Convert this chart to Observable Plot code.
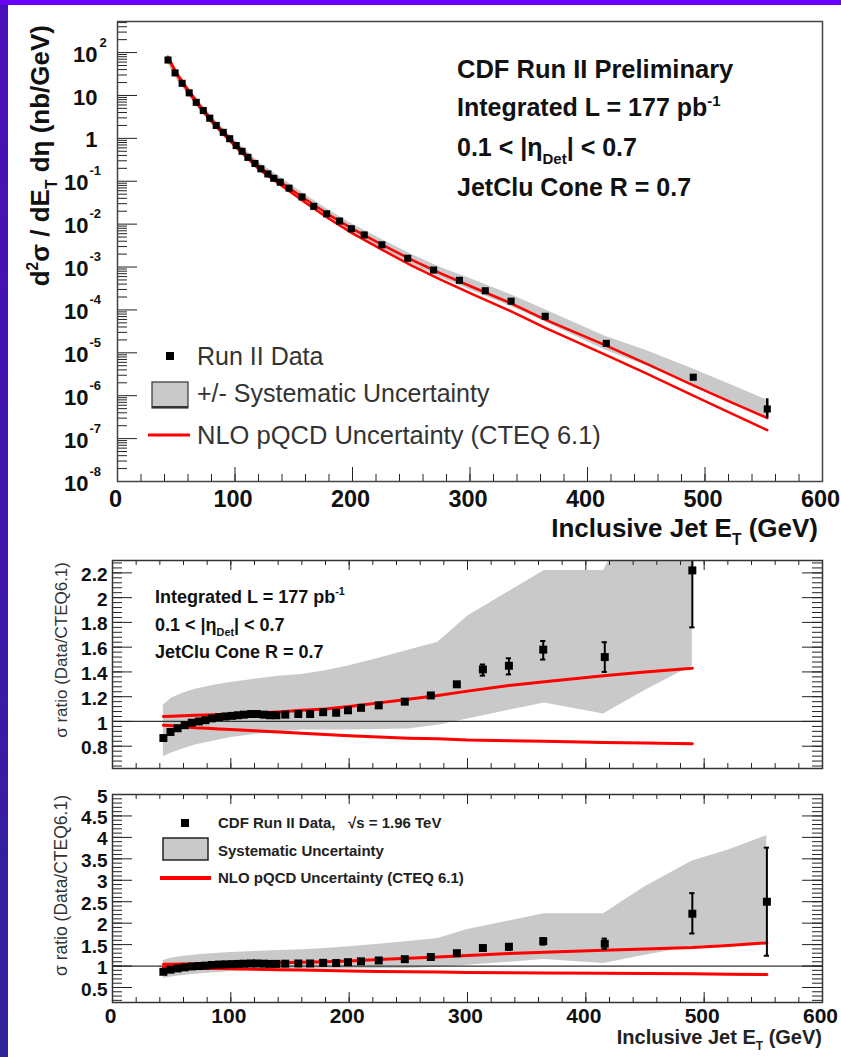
<!DOCTYPE html>
<html>
<head>
<meta charset="utf-8">
<script src="https://cdn.jsdelivr.net/npm/d3@7"></script>
<script src="https://cdn.jsdelivr.net/npm/@observablehq/plot@0.6"></script>
<style>
  html, body { margin: 0; padding: 0; background: #fff; }
  #page {
    position: relative; width: 841px; height: 1057px; overflow: hidden;
    background: linear-gradient(to bottom, #4a10b8 0%, #3f16ac 50%, #31239a 100%);
  }
  #topband { position: absolute; left: 0; top: 0; width: 841px; height: 5px; background: #6a00ff; }
  #sheet { position: absolute; left: 8px; top: 5px; width: 833px; height: 1052px; background: #fff; }
  .panel { position: absolute; left: 0; }
  svg text { white-space: pre; }
</style>
</head>
<body>
<div id="page">
  <div id="topband"></div>
  <div id="sheet"></div>
</div>
<script>
const FONT = '"Liberation Sans", Arial, Helvetica, sans-serif';

// ---- Inclusive jet data, CDF Run II, 177 pb^-1, 0.1 < |eta| < 0.7 ----
const jetEt = [43, 49, 55, 61, 67, 73, 78.5, 84, 90, 95.5, 101, 106, 111, 117, 122, 128, 133, 138.5,
  146, 157, 167, 178, 189, 199, 210, 225, 247, 269, 291, 313, 335, 364, 416, 490, 553];
const crossSection = [67, 33.6, 19.2, 11.5, 6.9, 4.45, 2.95, 2.0, 1.38, 0.98, 0.68, 0.50, 0.36, 0.26,
  0.195, 0.148, 0.117, 0.095, 0.069, 0.043, 0.026, 0.0174, 0.0118, 0.0078, 0.0056, 0.0033, 0.0016,
  8.5e-4, 4.9e-4, 2.8e-4, 1.6e-4, 7.1e-5, 1.66e-5, 2.7e-6, 4.9e-7];
const ratioToNLO = [0.866, 0.915, 0.945, 0.97, 0.99, 1.0, 1.01, 1.025, 1.035, 1.04, 1.045, 1.05, 1.055,
  1.06, 1.06, 1.055, 1.05, 1.05, 1.055, 1.06, 1.06, 1.075, 1.07, 1.09, 1.11, 1.13, 1.16, 1.21, 1.30,
  1.42, 1.45, 1.58, 1.52, 2.22, 2.5];

// statistical error bars (only where they exceed the marker)
const ratioErrEt = [313, 335, 364, 416, 490, 553];
const ratioErrLow = [1.37, 1.38, 1.50, 1.40, 1.76, 1.24];
const ratioErrHigh = [1.46, 1.51, 1.65, 1.64, 2.70, 3.76];
const xsecErrEt = [490, 553];
const xsecErrLow = [2.4e-6, 3.0e-7];
const xsecErrHigh = [3.0e-6, 8.5e-7];

// ---- NLO pQCD (CTEQ 6.1) uncertainty and systematic band, sampled in E_T ----
const gridEt = [43, 50, 60, 70, 80, 90, 100, 120, 140, 160, 180, 200, 225, 250, 275, 300, 335, 365, 415, 450, 490, 520, 553];
const nloHighXsec = [80, 34.4, 13.6, 5.88, 2.74, 1.41, 0.742, 0.224, 0.0915, 0.0382, 0.0165, 0.00773,
  0.00334, 0.00149, 7.14e-4, 3.61e-4, 1.42e-4, 5.81e-5, 1.51e-5, 5.6e-6, 1.74e-6, 7.5e-7, 3.02e-7];
const nloLowXsec = [74.7, 31.8, 12.5, 5.32, 2.46, 1.25, 0.655, 0.194, 0.0778, 0.0317, 0.0134, 0.00611,
  0.00254, 0.00109, 5.07e-4, 2.47e-4, 9.3e-5, 3.7e-5, 9.1e-6, 3.3e-6, 1.0e-6, 4.13e-7, 1.57e-7];
const sysHighXsec = [87, 39.3, 16.0, 7.06, 3.33, 1.73, 0.92, 0.281, 0.116, 0.0483, 0.0212, 0.0100,
  0.00438, 0.00198, 9.7e-4, 5.4e-4, 2.26e-4, 9.8e-5, 2.44e-5, 1.14e-5, 4.2e-6, 1.89e-6, 7.9e-7];
const sysLowXsec = [55, 24.6, 10.1, 4.54, 2.16, 1.13, 0.609, 0.188, 0.0778, 0.0326, 0.01395, 0.00642,
  0.00271, 0.00118, 5.7e-4, 2.96e-4, 1.2e-4, 5.06e-5, 1.17e-5, 5.0e-6, 1.77e-6, 7.65e-7, 3.02e-7];
const nloHighRatio = [1.04, 1.043, 1.046, 1.05, 1.053, 1.057, 1.06, 1.068, 1.077, 1.09, 1.10, 1.12,
  1.15, 1.18, 1.21, 1.245, 1.29, 1.32, 1.37, 1.40, 1.43, 1.48, 1.54];
const nloLowRatio = [0.97, 0.965, 0.958, 0.95, 0.945, 0.94, 0.935, 0.925, 0.915, 0.905, 0.895, 0.885,
  0.875, 0.865, 0.86, 0.85, 0.845, 0.84, 0.83, 0.825, 0.82, 0.81, 0.80];
const sysHighRatio = [1.13, 1.19, 1.23, 1.26, 1.28, 1.30, 1.315, 1.34, 1.365, 1.38, 1.41, 1.45, 1.51,
  1.575, 1.64, 1.85, 2.05, 2.22, 2.22, 2.85, 3.45, 3.70, 4.04];
const sysLowRatio = [0.715, 0.745, 0.78, 0.81, 0.83, 0.85, 0.87, 0.895, 0.915, 0.93, 0.93, 0.93, 0.935,
  0.94, 0.97, 1.02, 1.09, 1.15, 1.06, 1.25, 1.45, 1.50, 1.54];

// ---- axis ticks ----
const etTicks = [0, 100, 200, 300, 400, 500, 600];
const decadeTicks = [1e-8, 1e-7, 1e-6, 1e-5, 1e-4, 1e-3, 1e-2, 1e-1, 1, 10, 100];
const decadeBase = ["10", "10", "10", "10", "10", "10", "10", "10", "1", "10", "10"];
const decadeExp = ["-8", "-7", "-6", "-5", "-4", "-3", "-2", "-1", "", "", "2"];
const ratioTicksTop = [0.8, 1, 1.2, 1.4, 1.6, 1.8, 2, 2.2];
const ratioTicksBottom = [0.5, 1, 1.5, 2, 2.5, 3, 3.5, 4, 4.5, 5];

// ---- row tables ----
const points = jetEt.map((E, i) => ({E, xs: crossSection[i], r: ratioToNLO[i]}));
const grid = gridEt.map((E, i) => ({
  E, nloHi: nloHighXsec[i], nloLo: nloLowXsec[i], sysHi: sysHighXsec[i], sysLo: sysLowXsec[i],
  rNloHi: nloHighRatio[i], rNloLo: nloLowRatio[i], rSysHi: sysHighRatio[i], rSysLo: sysLowRatio[i]
}));
const ratioErr = ratioErrEt.map((E, i) => ({E, lo: ratioErrLow[i], hi: ratioErrHigh[i]}));
const xsecErr = xsecErrEt.map((E, i) => ({E, lo: xsecErrLow[i], hi: xsecErrHigh[i]}));
const decades = decadeTicks.map((v, i) => ({v, base: decadeBase[i], exp: decadeExp[i]}));

const RED = "#ff0000", BAND = "#c9c9c9", INK = "#111";

// text with superscript / subscript runs
function rich(svg, parts, {x, y, size, weight = "bold", anchor = "start", rotate = 0, fill = INK}) {
  const t = d3.select(svg).append("text")
    .attr("transform", `translate(${x},${y})` + (rotate ? ` rotate(${rotate})` : ""))
    .attr("text-anchor", anchor).attr("font-size", size).attr("font-weight", weight)
    .attr("fill", fill).attr("font-family", FONT);
  let shift = 0;
  for (const [s, mode] of parts) {
    const target = mode === "sup" ? -0.42 * size : mode === "sub" ? 0.3 * size : 0;
    const ts = t.append("tspan").text(s).attr("dy", target - shift);
    if (mode) ts.attr("font-size", size * 0.6);
    shift = target;
  }
  return t;
}

// inward tick marks along the frame
function linearTicks({major, minor, majorLen, minorLen, side, plotW, plotH}) {
  const marks = [];
  const add = (vals, len) => {
    if (side === "bottom") marks.push(Plot.ruleX(vals, {x: d => d, insetTop: plotH - len, stroke: "#222", strokeWidth: 1}));
    if (side === "top") marks.push(Plot.ruleX(vals, {x: d => d, insetBottom: plotH - len, stroke: "#222", strokeWidth: 1}));
    if (side === "left") marks.push(Plot.ruleY(vals, {y: d => d, insetRight: plotW - len, stroke: "#222", strokeWidth: 1}));
    if (side === "right") marks.push(Plot.ruleY(vals, {y: d => d, insetLeft: plotW - len, stroke: "#222", strokeWidth: 1}));
  };
  add(minor, minorLen);
  add(major, majorLen);
  return marks;
}

const page = document.getElementById("page");
const etMinor = d3.range(0, 601, 20);

// ================= Panel 1: cross section =================
{
  const W = 841, H = 550, mL = 117, mR = 19, mT = 21, mB = 69;
  const pw = W - mL - mR, ph = H - mT - mB;
  const logMinor = [];
  for (const d of decadeTicks) for (let m = 2; m <= 9; m++) if (d * m <= 530) logMinor.push(d * m);
  const svg = Plot.plot({
    width: W, height: H, marginLeft: mL, marginRight: mR, marginTop: mT, marginBottom: mB,
    style: {background: "transparent", fontFamily: FONT, overflow: "visible"},
    x: {domain: [0, 600], axis: null},
    y: {type: "log", domain: [1e-8, 530], axis: null},
    marks: [
      Plot.areaY(grid, {x: "E", y1: "sysLo", y2: "sysHi", fill: BAND}),
      Plot.line(grid, {x: "E", y: "nloHi", stroke: RED, strokeWidth: 2.5}),
      Plot.line(grid, {x: "E", y: "nloLo", stroke: RED, strokeWidth: 2.5}),
      Plot.ruleX(xsecErr, {x: "E", y1: "lo", y2: "hi", stroke: "#000", strokeWidth: 2.5}),
      Plot.dot(points, {x: "E", y: "xs", symbol: "square", r: 4, fill: "#000"}),
      ...linearTicks({major: etTicks, minor: etMinor, majorLen: 14, minorLen: 7, side: "bottom", plotW: pw, plotH: ph}),
      ...linearTicks({major: decadeTicks, minor: logMinor, majorLen: 20, minorLen: 10, side: "left", plotW: pw, plotH: ph}),
      Plot.frame({stroke: "#444", strokeWidth: 1.5}),
      Plot.text(etTicks, {x: d => d, text: d => String(d), frameAnchor: "bottom", dx: -2, dy: 25,
        fontSize: 23.5, fontWeight: "bold", fill: INK}),
      Plot.text(decades.filter(d => d.v >= 1), {y: "v", text: "base", frameAnchor: "left", dx: -20, dy: 2,
        textAnchor: "end", fontSize: 22, fontWeight: "bold", fill: INK}),
      Plot.text(decades.filter(d => d.v > 10), {y: "v", text: "exp", frameAnchor: "left", dx: -18, dy: -10,
        textAnchor: "start", fontSize: 13, fontWeight: "bold", fill: INK}),
      Plot.text(decades.filter(d => d.v < 1), {y: "v", text: "base", frameAnchor: "left", dx: -29, dy: 2,
        textAnchor: "end", fontSize: 22, fontWeight: "bold", fill: INK}),
      Plot.text(decades.filter(d => d.v < 1), {y: "v", text: "exp", frameAnchor: "left", dx: -28, dy: -10,
        textAnchor: "start", fontSize: 13, fontWeight: "bold", fill: INK})
    ]
  });
  svg.classList.add("panel");
  svg.style.top = "0px";
  page.appendChild(svg);

  rich(svg, [["d"], ["2", "sup"], ["σ / dE"], ["T", "sub"], [" dη (nb/GeV)"]],
    {x: 49, y: 25, size: 26, anchor: "end", rotate: -90});
  rich(svg, [["Inclusive Jet E"], ["T", "sub"], [" (GeV)"]], {x: 818, y: 537, size: 26, anchor: "end"});

  rich(svg, [["CDF Run II Preliminary"]], {x: 457, y: 78, size: 25.5});
  rich(svg, [["Integrated L = 177 pb"], ["-1", "sup"]], {x: 457, y: 116, size: 25});
  rich(svg, [["0.1 < |η"], ["Det", "sub"], ["| < 0.7"]], {x: 457, y: 156, size: 25});
  rich(svg, [["JetClu Cone R = 0.7"]], {x: 457, y: 196, size: 25});

  // legend
  const g = d3.select(svg).append("g");
  g.append("rect").attr("x", 166).attr("y", 352).attr("width", 8).attr("height", 8).attr("fill", "#000");
  g.append("rect").attr("x", 152).attr("y", 382).attr("width", 36).attr("height", 26)
    .attr("fill", BAND).attr("stroke", "#333").attr("stroke-width", 1.2);
  g.append("line").attr("x1", 152).attr("x2", 188).attr("y1", 407).attr("y2", 407).attr("stroke", "#333").attr("stroke-width", 2);
  g.append("line").attr("x1", 148).attr("x2", 190).attr("y1", 435).attr("y2", 435).attr("stroke", RED).attr("stroke-width", 3);
  rich(svg, [["Run II Data"]], {x: 197, y: 365, size: 25, weight: "normal", fill: "#333"});
  rich(svg, [["+/- Systematic Uncertainty"]], {x: 197, y: 402, size: 25, weight: "normal", fill: "#333"});
  rich(svg, [["NLO pQCD Uncertainty (CTEQ 6.1)"]], {x: 197, y: 444, size: 25.5, weight: "normal", fill: "#333"});
}

// ================= Panel 2: ratio, zoomed =================
{
  const W = 841, H = 230, mL = 112, mR = 19, mT = 10, mB = 12;
  const pw = W - mL - mR, ph = H - mT - mB;
  const yMinor = d3.range(0.64, 2.3, 0.04);
  const svg = Plot.plot({
    width: W, height: H, marginLeft: mL, marginRight: mR, marginTop: mT, marginBottom: mB,
    style: {background: "transparent", fontFamily: FONT, overflow: "visible"},
    x: {domain: [0, 600], axis: null},
    y: {domain: [0.62, 2.3], axis: null},
    marks: [
      Plot.areaY(grid.filter(d => d.E <= 490), {x: "E", y1: "rSysLo", y2: "rSysHi", fill: BAND, clip: true}),
      Plot.ruleY([1], {stroke: "#333", strokeWidth: 1.2}),
      Plot.line(grid.filter(d => d.E <= 490), {x: "E", y: "rNloHi", stroke: RED, strokeWidth: 3}),
      Plot.line(grid.filter(d => d.E <= 490), {x: "E", y: "rNloLo", stroke: RED, strokeWidth: 3}),
      Plot.ruleX(ratioErr.filter(d => d.E <= 490), {x: "E", y1: "lo", y2: "hi", stroke: "#000", strokeWidth: 2, clip: true}),
      Plot.ruleY(ratioErr.filter(d => d.E <= 490), {y: "lo", x1: d => d.E - 2.2, x2: d => d.E + 2.2, stroke: "#000", strokeWidth: 2}),
      Plot.ruleY(ratioErr.filter(d => d.E <= 490), {y: "hi", x1: d => d.E - 2.2, x2: d => d.E + 2.2, stroke: "#000", strokeWidth: 2, clip: true}),
      Plot.dot(points.filter(d => d.E <= 490), {x: "E", y: "r", symbol: "square", r: 4.5, fill: "#000"}),
      ...linearTicks({major: etTicks, minor: etMinor, majorLen: 10, minorLen: 5, side: "bottom", plotW: pw, plotH: ph}),
      ...linearTicks({major: etTicks, minor: etMinor, majorLen: 10, minorLen: 5, side: "top", plotW: pw, plotH: ph}),
      ...linearTicks({major: ratioTicksTop, minor: yMinor, majorLen: 20, minorLen: 10, side: "left", plotW: pw, plotH: ph}),
      ...linearTicks({major: ratioTicksTop, minor: yMinor, majorLen: 20, minorLen: 10, side: "right", plotW: pw, plotH: ph}),
      Plot.frame({stroke: "#333", strokeWidth: 1.5}),
      Plot.text(ratioTicksTop, {y: d => d, text: d => String(d), frameAnchor: "left", dx: -5, dy: 2,
        textAnchor: "end", fontSize: 19, fontWeight: "bold", fill: INK})
    ]
  });
  svg.classList.add("panel");
  svg.style.top = "550px";
  page.appendChild(svg);

  rich(svg, [["σ ratio (Data/CTEQ6.1)"]], {x: 67, y: 12, size: 17, weight: "normal", anchor: "end", rotate: -90, fill: "#333"});
  rich(svg, [["Integrated L = 177 pb"], ["-1", "sup"]], {x: 155, y: 53, size: 18});
  rich(svg, [["0.1 < |η"], ["Det", "sub"], ["| < 0.7"]], {x: 155, y: 81, size: 18});
  rich(svg, [["JetClu Cone R = 0.7"]], {x: 155, y: 108, size: 18});
}

// ================= Panel 3: ratio, full range =================
{
  const W = 841, H = 277, mL = 112, mR = 19, mT = 14, mB = 55;
  const pw = W - mL - mR, ph = H - mT - mB;
  const yMinor = d3.range(0.2, 5.01, 0.1);
  const svg = Plot.plot({
    width: W, height: H, marginLeft: mL, marginRight: mR, marginTop: mT, marginBottom: mB,
    style: {background: "transparent", fontFamily: FONT, overflow: "visible"},
    x: {domain: [0, 600], axis: null},
    y: {domain: [0.15, 5], axis: null},
    marks: [
      Plot.areaY(grid, {x: "E", y1: "rSysLo", y2: "rSysHi", fill: BAND}),
      Plot.ruleY([1], {stroke: "#333", strokeWidth: 1.2}),
      Plot.line(grid, {x: "E", y: "rNloHi", stroke: RED, strokeWidth: 3}),
      Plot.line(grid, {x: "E", y: "rNloLo", stroke: RED, strokeWidth: 3}),
      Plot.ruleX(ratioErr, {x: "E", y1: "lo", y2: "hi", stroke: "#000", strokeWidth: 2}),
      Plot.ruleY(ratioErr, {y: "lo", x1: d => d.E - 2.2, x2: d => d.E + 2.2, stroke: "#000", strokeWidth: 2}),
      Plot.ruleY(ratioErr, {y: "hi", x1: d => d.E - 2.2, x2: d => d.E + 2.2, stroke: "#000", strokeWidth: 2}),
      Plot.dot(points, {x: "E", y: "r", symbol: "square", r: 4.5, fill: "#000"}),
      ...linearTicks({major: etTicks, minor: etMinor, majorLen: 10, minorLen: 5, side: "bottom", plotW: pw, plotH: ph}),
      ...linearTicks({major: etTicks, minor: etMinor, majorLen: 10, minorLen: 5, side: "top", plotW: pw, plotH: ph}),
      ...linearTicks({major: ratioTicksBottom, minor: yMinor, majorLen: 20, minorLen: 10, side: "left", plotW: pw, plotH: ph}),
      ...linearTicks({major: ratioTicksBottom, minor: yMinor, majorLen: 20, minorLen: 10, side: "right", plotW: pw, plotH: ph}),
      Plot.frame({stroke: "#333", strokeWidth: 1.5}),
      Plot.text(ratioTicksBottom, {y: d => d, text: d => String(d), frameAnchor: "left", dx: -5, dy: 2,
        textAnchor: "end", fontSize: 19, fontWeight: "bold", fill: INK}),
      Plot.text(etTicks, {x: d => d, text: d => String(d), frameAnchor: "bottom", dx: -2, dy: 20,
        fontSize: 21, fontWeight: "bold", fill: INK})
    ]
  });
  svg.classList.add("panel");
  svg.style.top = "780px";
  page.appendChild(svg);

  rich(svg, [["σ ratio (Data/CTEQ6.1)"]], {x: 67, y: 15, size: 17.5, weight: "normal", anchor: "end", rotate: -90, fill: "#333"});
  rich(svg, [["Inclusive Jet E"], ["T", "sub"], [" (GeV)"]], {x: 822, y: 264, size: 20, anchor: "end", fill: "#222"});

  // legend
  const g = d3.select(svg).append("g");
  g.append("rect").attr("x", 181).attr("y", 39).attr("width", 8).attr("height", 8).attr("fill", "#000");
  g.append("rect").attr("x", 163).attr("y", 58).attr("width", 45).attr("height", 22)
    .attr("fill", BAND).attr("stroke", "#222").attr("stroke-width", 1.5);
  g.append("line").attr("x1", 160).attr("x2", 211).attr("y1", 98).attr("y2", 98).attr("stroke", RED).attr("stroke-width", 4);
  rich(svg, [["CDF Run II Data,   √s = 1.96 TeV"]], {x: 218, y: 48, size: 15, fill: "#222"});
  rich(svg, [["Systematic Uncertainty"]], {x: 218, y: 76, size: 15, fill: "#222"});
  rich(svg, [["NLO pQCD Uncertainty (CTEQ 6.1)"]], {x: 218, y: 103, size: 15, fill: "#222"});
}
</script>
</body>
</html>
